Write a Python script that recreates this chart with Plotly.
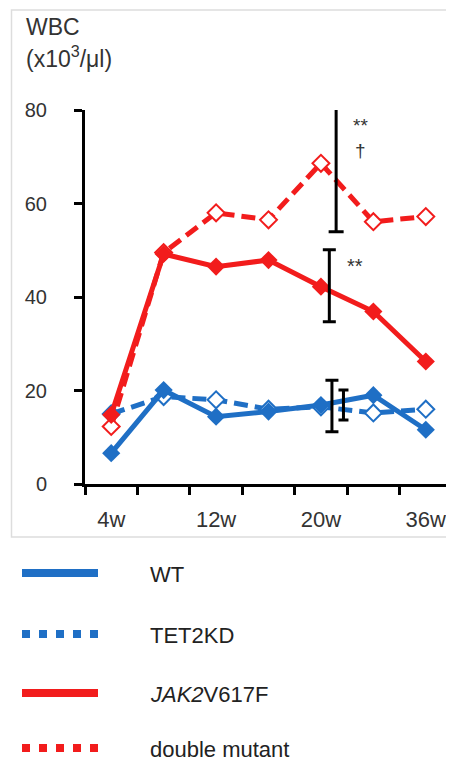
import plotly.graph_objects as go

# ---------------- data ----------------
weeks = ["4w", "8w", "12w", "16w", "20w", "28w", "36w"]
shown_week_labels = ["4w", "12w", "20w", "36w"]

wt = [6.6, 20.1, 14.4, 15.5, 16.9, 19.0, 11.6]
tet2kd = [15.0, 18.7, 18.0, 16.0, 16.5, 15.2, 16.0]
jak2 = [14.8, 49.2, 46.5, 47.9, 42.2, 36.9, 26.2]
double_mutant = [12.3, 49.5, 58.0, 56.5, 68.6, 56.1, 57.2]

# error bars (position along week axis, centre, half-range)
err_pos = [4.29, 4.16, 4.21, 4.43]
err_mid = [69.4, 42.4, 16.7, 16.9]
err_half = [15.45, 7.7, 5.5, 3.2]

series_names = ["WT", "TET2KD", "<i>JAK2</i>V617F", "double mutant"]
y_ticks = [0, 20, 40, 60, 80]

# ---------------- style ----------------
BLUE = "#1f6fc5"
RED = "#f21c1c"
TXT = "#333333"
FONT = "Liberation Sans, Arial, sans-serif"

OFF = 8  # page body margin
W, H = 454 - OFF, 759 - OFF
L = 85 - OFF
T = 110 - OFF
B = H - (484 - OFF)
R = W - (452 - OFF)
PW, PH = W - L - R, H - T - B


def px_x(x):  # page pixel -> paper
    return (x - OFF - L) / PW


def px_y(y):
    return (H - B - (y - OFF)) / PH


xi = list(range(len(weeks)))

fig = go.Figure()

fig.add_trace(go.Scatter(
    x=xi, y=tet2kd, mode="lines+markers", name="TET2KD",
    line=dict(color=BLUE, width=5, dash="14px,7px"),
    marker=dict(symbol="diamond", size=13, color="white", line=dict(color=BLUE, width=2)),
    showlegend=False))
fig.add_trace(go.Scatter(
    x=xi, y=wt, mode="lines+markers", name="WT",
    line=dict(color=BLUE, width=5),
    marker=dict(symbol="diamond", size=14, color=BLUE),
    showlegend=False))
fig.add_trace(go.Scatter(
    x=xi, y=double_mutant, mode="lines+markers", name="double mutant",
    line=dict(color=RED, width=5, dash="14px,7px"),
    marker=dict(symbol="diamond", size=13, color="white", line=dict(color=RED, width=2)),
    showlegend=False))
fig.add_trace(go.Scatter(
    x=xi, y=jak2, mode="lines+markers", name="JAK2V617F",
    line=dict(color=RED, width=5),
    marker=dict(symbol="diamond", size=14, color=RED),
    showlegend=False))

cap_half = [7.5, 6.5, 6.5, 5]
for i in range(len(err_pos)):
    fig.add_trace(go.Scatter(
        x=[err_pos[i]], y=[err_mid[i]], mode="markers",
        marker=dict(size=1, color="rgba(0,0,0,0)"),
        error_y=dict(type="data", array=[err_half[i]], color="black",
                     thickness=3, width=cap_half[i]),
        cliponaxis=False, showlegend=False, hoverinfo="skip"))

fig.update_layout(
    width=W, height=H,
    margin=dict(l=L, r=R, t=T, b=B),
    paper_bgcolor="white", plot_bgcolor="white",
    font=dict(family=FONT, color=TXT, size=20),
    showlegend=False,
    xaxis=dict(
        range=[-0.5, len(weeks) - 0.5],
        tickvals=[weeks.index(w) for w in shown_week_labels],
        ticktext=shown_week_labels,
        ticks="", showgrid=False, zeroline=False,
        showline=True, linecolor="black", linewidth=3,
        tickfont=dict(size=22, color=TXT),
        ticklabelstandoff=14,
        minor=dict(tick0=-0.5, dtick=1, ticks="outside", ticklen=8,
                   tickwidth=3, tickcolor="black", showgrid=False),
    ),
    yaxis=dict(
        range=[0, 80], tickvals=y_ticks,
        ticks="outside", ticklen=8, tickwidth=3, tickcolor="black",
        showline=True, linecolor="black", linewidth=3,
        showgrid=False, zeroline=False,
        tickfont=dict(size=20, color=TXT),
        ticklabelstandoff=23,
    ),
)

annotations = [
    dict(text="WBC", x=px_x(24), y=px_y(27), xref="paper", yref="paper",
         xanchor="left", yanchor="middle", showarrow=False,
         font=dict(size=23, color=TXT)),
    dict(text="(x10<sup>3</sup>/μl)", x=px_x(24), y=px_y(57), xref="paper", yref="paper",
         xanchor="left", yanchor="middle", showarrow=False,
         font=dict(size=23, color=TXT)),
    dict(text="**<br>†", x=4.76, y=74.1, xref="x", yref="y", showarrow=False,
         font=dict(size=19, color=TXT)),
    dict(text="**", x=4.65, y=46.6, xref="x", yref="y", showarrow=False,
         font=dict(size=20, color=TXT)),
]

shapes = [
    dict(type="rect", xref="paper", yref="paper",
         x0=px_x(11.5), x1=px_x(470), y0=px_y(537), y1=px_y(10),
         line=dict(color="#dddddd", width=1.5), fillcolor="rgba(0,0,0,0)", layer="below"),
]

legend_y = [573, 634, 693, 748]
legend_col = [BLUE, BLUE, RED, RED]
legend_dash = ["solid", "8px,9px", "solid", "8px,9px"]
for name, ly, c, d in zip(series_names, legend_y, legend_col, legend_dash):
    shapes.append(dict(type="line", xref="paper", yref="paper",
                       x0=px_x(22), x1=px_x(98), y0=px_y(ly), y1=px_y(ly),
                       line=dict(color=c, width=8, dash=d)))
    annotations.append(dict(text=name, x=px_x(148), y=px_y(ly + 1),
                            xref="paper", yref="paper", xanchor="left", yanchor="middle",
                            showarrow=False, font=dict(size=22, color="#222222")))

fig.update_layout(annotations=annotations, shapes=shapes)

fig.write_html("out.html")
